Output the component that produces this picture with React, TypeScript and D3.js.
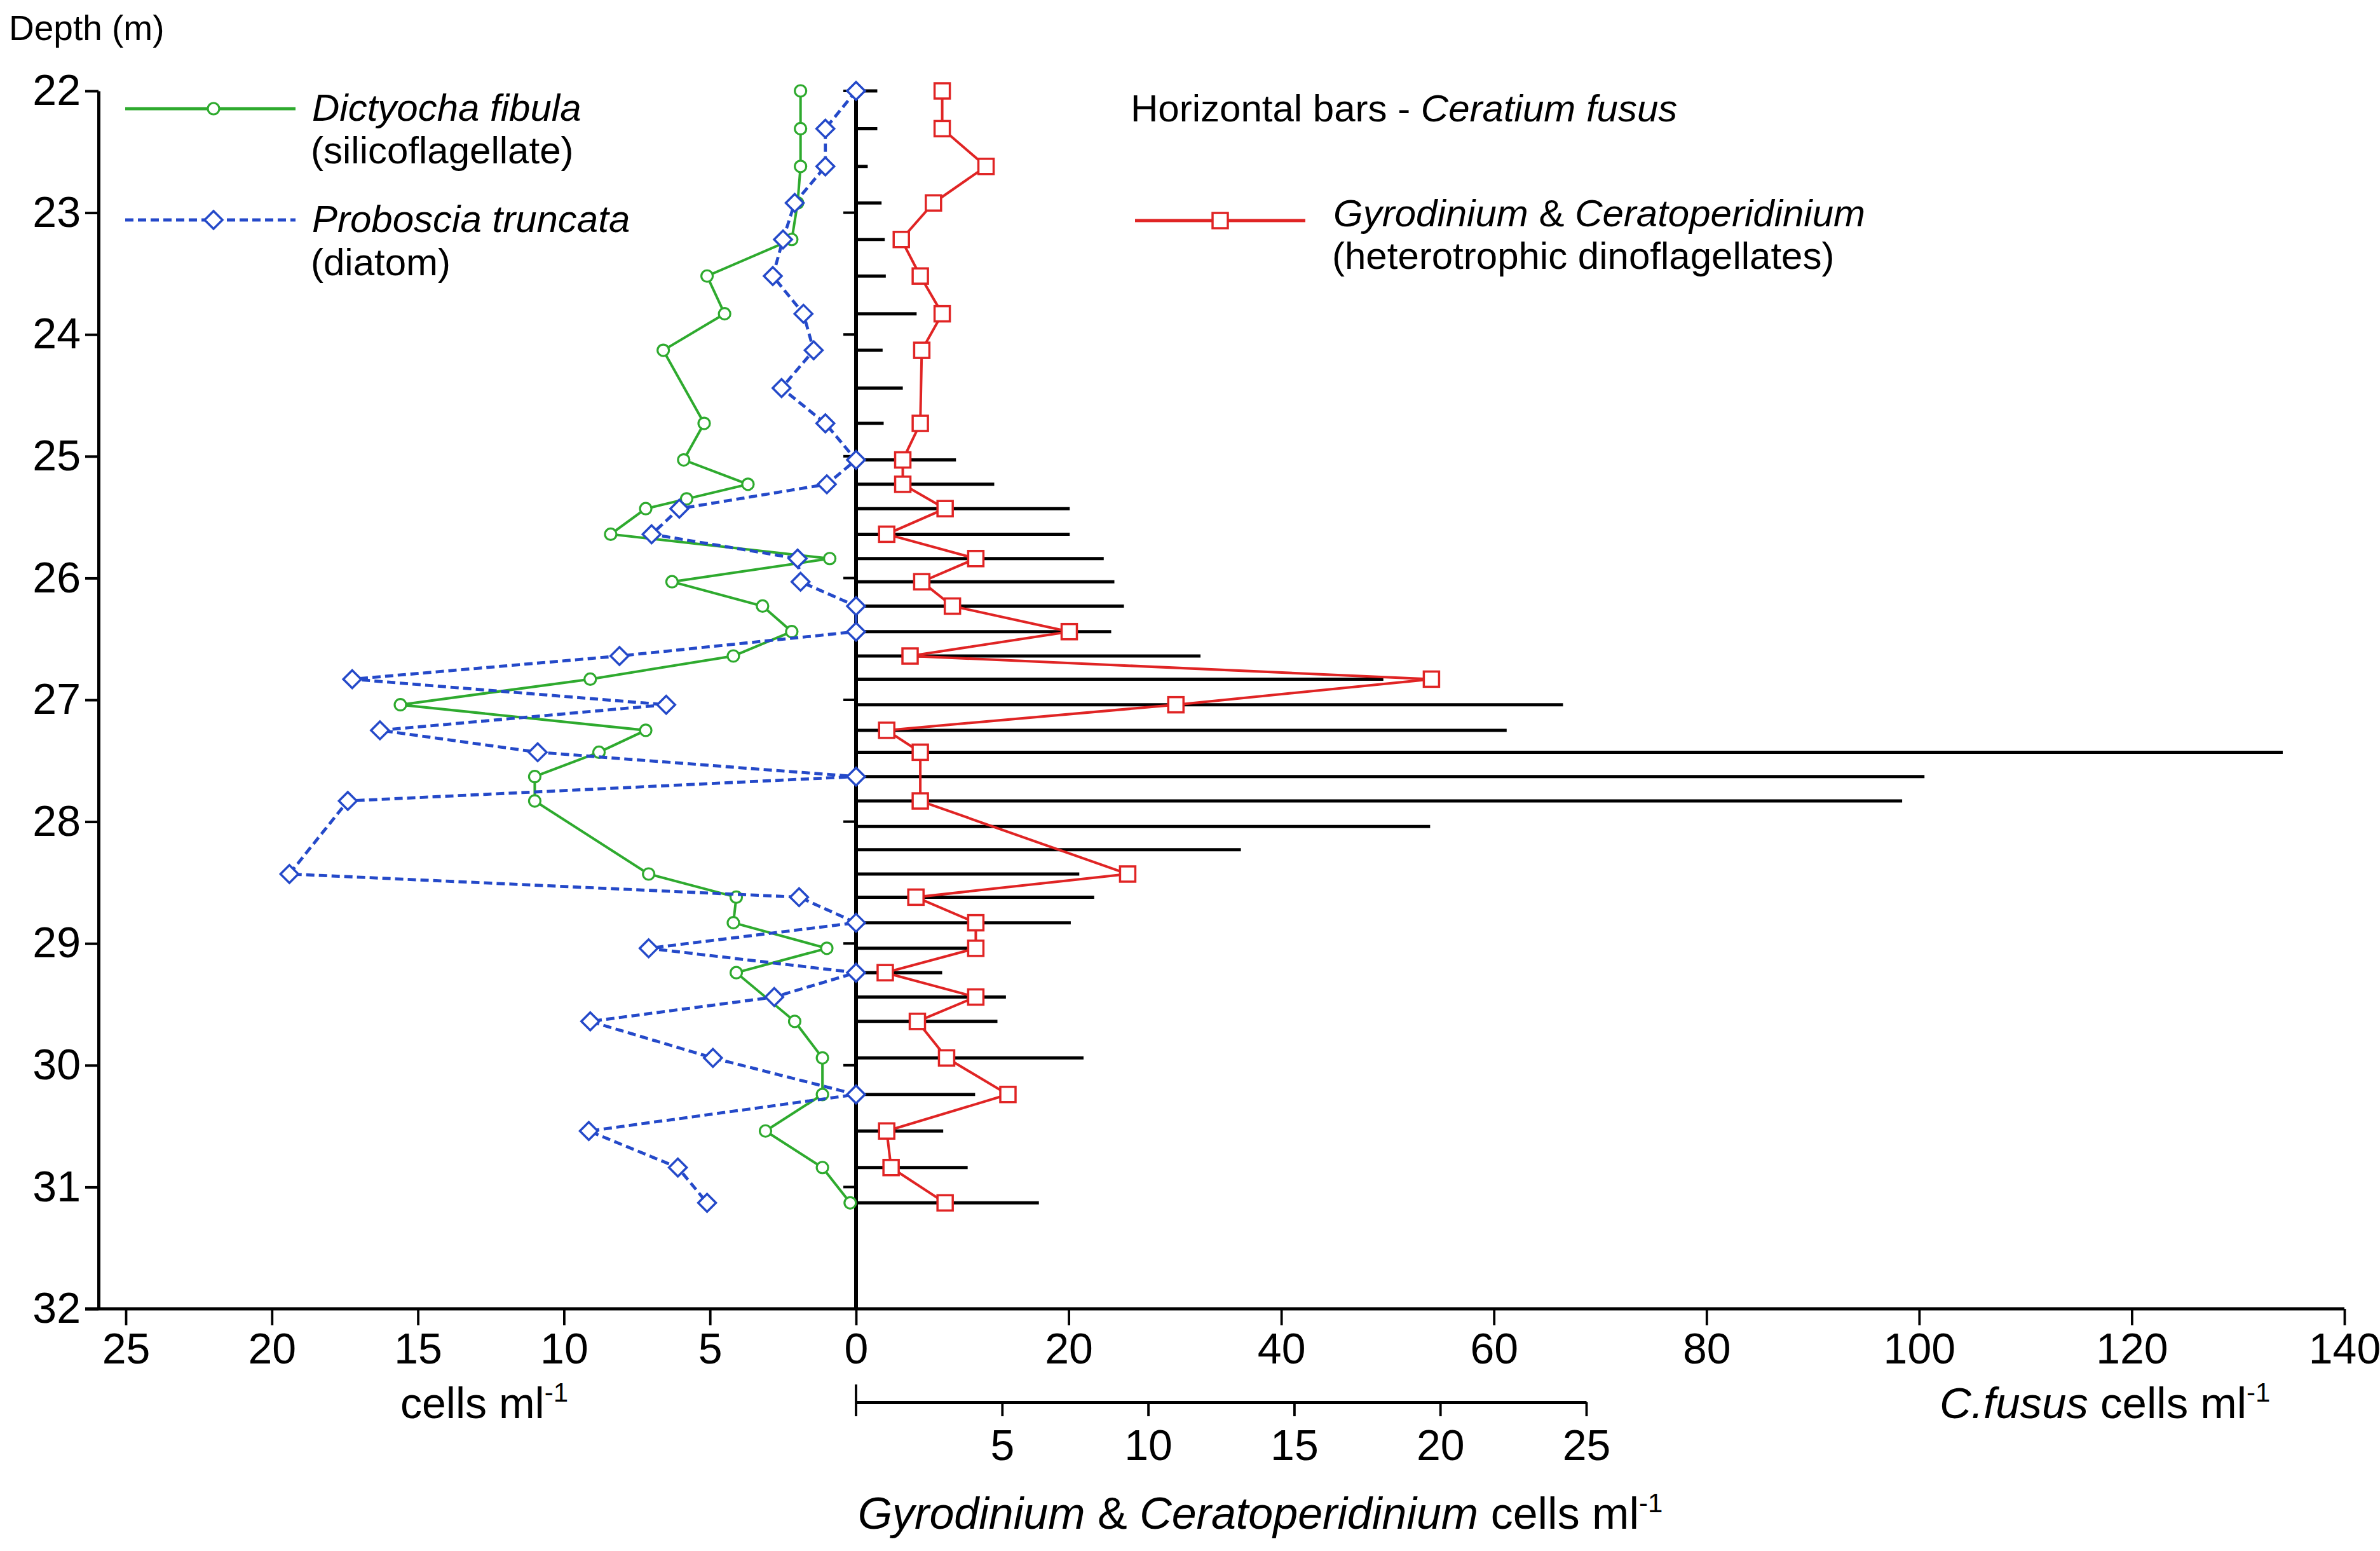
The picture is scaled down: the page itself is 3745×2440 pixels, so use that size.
import React, { useEffect, useRef } from "react";
import * as d3 from "d3";

// sample depths (m) shared by the C. fusus bars
const barDepths = [
  22.0, 22.31, 22.62, 22.92, 23.22, 23.52, 23.83, 24.13, 24.44, 24.73, 25.03,
  25.23, 25.43, 25.64, 25.84, 26.03, 26.23, 26.44, 26.64, 26.83, 27.04, 27.25,
  27.43, 27.63, 27.83, 28.04, 28.23, 28.43, 28.62, 28.83, 29.04, 29.24, 29.44,
  29.64, 29.94, 30.24, 30.54, 30.84, 31.13,
];
const ceratiumFusus = [
  2.0, 2.0, 1.1, 2.4, 2.7, 2.8, 5.7, 2.5, 4.4, 2.6, 9.4, 13.0, 20.1, 20.1, 23.3,
  24.3, 25.2, 24.0, 32.4, 49.6, 66.5, 61.2, 134.2, 100.5, 98.4, 54.0, 36.2, 21.0,
  22.4, 20.2, 10.6, 8.1, 14.1, 13.3, 21.4, 11.2, 8.2, 10.5, 17.2,
];

const dictyochaDepths = [
  22.0, 22.31, 22.62, 22.92, 23.22, 23.52, 23.83, 24.13, 24.73, 25.03, 25.23,
  25.35, 25.43, 25.64, 25.84, 26.03, 26.23, 26.44, 26.64, 26.83, 27.04, 27.25,
  27.43, 27.63, 27.83, 28.43, 28.62, 28.83, 29.04, 29.24, 29.64, 29.94, 30.24,
  30.54, 30.84, 31.13,
];
const dictyocha = [
  1.9, 1.9, 1.9, 2.0, 2.2, 5.1, 4.5, 6.6, 5.2, 5.9, 3.7, 5.8, 7.2, 8.4, 0.9, 6.3,
  3.2, 2.2, 4.2, 9.1, 15.6, 7.2, 8.8, 11.0, 11.0, 7.1, 4.1, 4.2, 1.0, 4.1, 2.1,
  1.15, 1.15, 3.1, 1.15, 0.2,
];

const probosciaDepths = [
  22.0, 22.31, 22.62, 22.92, 23.22, 23.52, 23.83, 24.13, 24.44, 24.73, 25.03,
  25.23, 25.43, 25.64, 25.84, 26.03, 26.23, 26.44, 26.64, 26.83, 27.04, 27.25,
  27.43, 27.63, 27.83, 28.43, 28.62, 28.83, 29.04, 29.24, 29.44, 29.64, 29.94,
  30.24, 30.54, 30.84, 31.13,
];
const proboscia = [
  0, 1.05, 1.05, 2.1, 2.5, 2.85, 1.8, 1.45, 2.55, 1.05, 0, 1.0, 6.05, 7.0, 2.0,
  1.9, 0, 0, 8.1, 17.25, 6.5, 16.3, 10.9, 0, 17.4, 19.4, 1.95, 0, 7.1, 0, 2.8,
  9.1, 4.9, 0, 9.15, 6.1, 5.1,
];

const gyroDepths = [
  22.0, 22.31, 22.62, 22.92, 23.22, 23.52, 23.83, 24.13, 24.73, 25.03, 25.23,
  25.43, 25.64, 25.84, 26.03, 26.23, 26.44, 26.64, 26.83, 27.04, 27.25, 27.43,
  27.83, 28.43, 28.62, 28.83, 29.04, 29.24, 29.44, 29.64, 29.94, 30.24, 30.54,
  30.84, 31.13,
];
const gyro = [
  2.95, 2.95, 4.45, 2.65, 1.55, 2.2, 2.95, 2.25, 2.2, 1.6, 1.6, 3.05, 1.05, 4.1,
  2.25, 3.3, 7.3, 1.85, 19.7, 10.95, 1.05, 2.2, 2.2, 9.3, 2.05, 4.1, 4.1, 1.0,
  4.1, 2.1, 3.1, 5.2, 1.05, 1.2, 3.05,
];

const depthTicks = d3.range(22, 33);
const leftTicks = [25, 20, 15, 10, 5, 0];
const fususTicks = [20, 40, 60, 80, 100, 120, 140];
const gyroTicks = [5, 10, 15, 20, 25];

const GREEN = "#2eaa2e";
const BLUE = "#2449c9";
const RED = "#e02424";
const FONT = "'Liberation Sans', Arial, Helvetica, sans-serif";

const App: React.FC = () => {
  const svgRef = useRef<SVGSVGElement>(null);

  useEffect(() => {
    if (!svgRef.current) return;
    const svg = d3.select(svgRef.current);
    svg.selectAll("*").remove();

    const y = d3.scaleLinear().domain([22, 32]).range([143, 2059]);
    const xLeft = d3.scaleLinear().domain([0, 25]).range([1347, 198]);
    const xFusus = d3.scaleLinear().domain([0, 140]).range([1347, 3689]);
    const xGyro = d3.scaleLinear().domain([0, 25]).range([1347, 2496]);

    const axisLeftX = 155;
    const baseY = y(32);

    // C. fusus horizontal bars
    svg
      .append("g")
      .selectAll("line")
      .data(d3.zip(barDepths, ceratiumFusus))
      .join("line")
      .attr("x1", xFusus(0))
      .attr("x2", (d) => xFusus(d[1]))
      .attr("y1", (d) => y(d[0]))
      .attr("y2", (d) => y(d[0]))
      .attr("stroke", "#000")
      .attr("stroke-width", 5);

    // centre (zero) axis with small depth ticks on its left
    svg
      .append("line")
      .attr("x1", xLeft(0))
      .attr("x2", xLeft(0))
      .attr("y1", y(22))
      .attr("y2", baseY)
      .attr("stroke", "#000")
      .attr("stroke-width", 6);
    svg
      .append("g")
      .selectAll("line")
      .data(d3.range(22, 32))
      .join("line")
      .attr("x1", xLeft(0) - 20)
      .attr("x2", xLeft(0))
      .attr("y1", (d) => y(d))
      .attr("y2", (d) => y(d))
      .attr("stroke", "#000")
      .attr("stroke-width", 4);

    const lineLeft = d3
      .line<[number, number]>()
      .x((d) => xLeft(d[1]))
      .y((d) => y(d[0]));
    const lineGyro = d3
      .line<[number, number]>()
      .x((d) => xGyro(d[1]))
      .y((d) => y(d[0]));

    const greenData = d3.zip(dictyochaDepths, dictyocha) as [number, number][];
    const blueData = d3.zip(probosciaDepths, proboscia) as [number, number][];
    const redData = d3.zip(gyroDepths, gyro) as [number, number][];

    const diamond = (r: number) => `M0,${-r}L${r},0L0,${r}L${-r},0Z`;

    // Dictyocha fibula
    svg
      .append("path")
      .datum(greenData)
      .attr("d", lineLeft)
      .attr("fill", "none")
      .attr("stroke", GREEN)
      .attr("stroke-width", 4);
    svg
      .append("g")
      .selectAll("circle")
      .data(greenData)
      .join("circle")
      .attr("cx", (d) => xLeft(d[1]))
      .attr("cy", (d) => y(d[0]))
      .attr("r", 9)
      .attr("fill", "#fff")
      .attr("stroke", GREEN)
      .attr("stroke-width", 3.2);

    // Proboscia truncata
    svg
      .append("path")
      .datum(blueData)
      .attr("d", lineLeft)
      .attr("fill", "none")
      .attr("stroke", BLUE)
      .attr("stroke-width", 4.8)
      .attr("stroke-dasharray", "13,7");
    svg
      .append("g")
      .selectAll("path")
      .data(blueData)
      .join("path")
      .attr("transform", (d) => `translate(${xLeft(d[1])},${y(d[0])})`)
      .attr("d", diamond(14))
      .attr("fill", "#fff")
      .attr("stroke", BLUE)
      .attr("stroke-width", 3.5);

    // Gyrodinium & Ceratoperidinium
    svg
      .append("path")
      .datum(redData)
      .attr("d", lineGyro)
      .attr("fill", "none")
      .attr("stroke", RED)
      .attr("stroke-width", 4);
    svg
      .append("g")
      .selectAll("rect")
      .data(redData)
      .join("rect")
      .attr("x", (d) => xGyro(d[1]) - 12)
      .attr("y", (d) => y(d[0]) - 12)
      .attr("width", 24)
      .attr("height", 24)
      .attr("fill", "#fff")
      .attr("stroke", RED)
      .attr("stroke-width", 3.5);

    // depth axis
    const gy = svg
      .append("g")
      .attr("transform", `translate(${axisLeftX},0)`)
      .call(
        d3
          .axisLeft(y)
          .tickValues(depthTicks)
          .tickSize(21)
          .tickSizeOuter(0)
          .tickPadding(7)
          .tickFormat(d3.format("d"))
      );
    gy.select(".domain").attr("stroke-width", 5);
    gy.selectAll(".tick line").attr("stroke-width", 4);
    gy.attr("font-size", 68).attr("font-family", FONT);

    // bottom axis: left (cells) and right (C. fusus)
    svg
      .append("line")
      .attr("x1", axisLeftX - 21)
      .attr("x2", xFusus(140))
      .attr("y1", baseY)
      .attr("y2", baseY)
      .attr("stroke", "#000")
      .attr("stroke-width", 5);
    [
      d3.axisBottom(xLeft).tickValues(leftTicks),
      d3.axisBottom(xFusus).tickValues(fususTicks),
    ].forEach((ax) => {
      const g = svg
        .append("g")
        .attr("transform", `translate(0,${baseY})`)
        .call(ax.tickSize(26).tickPadding(12).tickFormat(d3.format("d")));
      g.select(".domain").remove();
      g.selectAll(".tick line").attr("stroke-width", 3.8);
      g.attr("font-size", 68).attr("font-family", FONT);
    });

    // secondary axis for Gyrodinium & Ceratoperidinium
    const secY = 2206;
    const gs = svg
      .append("g")
      .attr("transform", `translate(0,${secY})`)
      .call(
        d3
          .axisBottom(xGyro)
          .tickValues(gyroTicks)
          .tickSize(22)
          .tickSizeOuter(0)
          .tickPadding(21)
          .tickFormat(d3.format("d"))
      );
    gs.select(".domain").attr("stroke-width", 5);
    gs.selectAll(".tick line").attr("stroke-width", 3.8);
    gs.attr("font-size", 68).attr("font-family", FONT);
    svg
      .append("line")
      .attr("x1", xGyro(0))
      .attr("x2", xGyro(0))
      .attr("y1", secY - 28)
      .attr("y2", secY + 22)
      .attr("stroke", "#000")
      .attr("stroke-width", 3.8);

    // text
    const text = svg.append("g").attr("font-family", FONT).attr("fill", "#000");
    text.append("text").attr("x", 14).attr("y", 63).attr("font-size", 55).text("Depth (m)");

    const unit = (t: d3.Selection<SVGTextElement, unknown, null, undefined>) => {
      t.append("tspan").text(" cells ml");
      t.append("tspan").attr("font-size", 42).attr("dy", -26).text("-1");
    };

    const t1 = text.append("text").attr("x", 630).attr("y", 2231).attr("font-size", 68);
    t1.append("tspan").text("cells ml");
    t1.append("tspan").attr("font-size", 42).attr("dy", -26).text("-1");

    const t2 = text.append("text").attr("x", 3052).attr("y", 2231).attr("font-size", 69);
    t2.append("tspan").attr("font-style", "italic").text("C.fusus");
    unit(t2);

    const t3 = text
      .append("text")
      .attr("x", 1983)
      .attr("y", 2405)
      .attr("font-size", 70)
      .attr("text-anchor", "middle");
    t3.append("tspan").attr("font-style", "italic").text("Gyrodinium");
    t3.append("tspan").text(" & ");
    t3.append("tspan").attr("font-style", "italic").text("Ceratoperidinium");
    unit(t3);

    // legends
    const legend = svg.append("g").attr("font-family", FONT).attr("font-size", 60);

    legend
      .append("line")
      .attr("x1", 197)
      .attr("x2", 465)
      .attr("y1", 171)
      .attr("y2", 171)
      .attr("stroke", GREEN)
      .attr("stroke-width", 5);
    legend
      .append("circle")
      .attr("cx", 336)
      .attr("cy", 171)
      .attr("r", 9)
      .attr("fill", "#fff")
      .attr("stroke", GREEN)
      .attr("stroke-width", 3.2);
    legend.append("text").attr("x", 491).attr("y", 190).attr("font-style", "italic").text("Dictyocha fibula");
    legend.append("text").attr("x", 489).attr("y", 257).text("(silicoflagellate)");

    legend
      .append("line")
      .attr("x1", 197)
      .attr("x2", 465)
      .attr("y1", 346)
      .attr("y2", 346)
      .attr("stroke", BLUE)
      .attr("stroke-width", 5)
      .attr("stroke-dasharray", "13,7");
    legend
      .append("path")
      .attr("transform", "translate(336,346)")
      .attr("d", diamond(14))
      .attr("fill", "#fff")
      .attr("stroke", BLUE)
      .attr("stroke-width", 3.5);
    legend.append("text").attr("x", 491).attr("y", 365).attr("font-style", "italic").text("Proboscia truncata");
    legend.append("text").attr("x", 489).attr("y", 433).text("(diatom)");

    const hb = legend.append("text").attr("x", 1779).attr("y", 191);
    hb.append("tspan").text("Horizontal bars - ");
    hb.append("tspan").attr("font-style", "italic").text("Ceratium fusus");

    legend
      .append("line")
      .attr("x1", 1786)
      .attr("x2", 2054)
      .attr("y1", 347)
      .attr("y2", 347)
      .attr("stroke", RED)
      .attr("stroke-width", 5);
    legend
      .append("rect")
      .attr("x", 1920 - 12)
      .attr("y", 347 - 12)
      .attr("width", 24)
      .attr("height", 24)
      .attr("fill", "#fff")
      .attr("stroke", RED)
      .attr("stroke-width", 3.5);
    const gl = legend.append("text").attr("x", 2098).attr("y", 356);
    gl.append("tspan").attr("font-style", "italic").text("Gyrodinium");
    gl.append("tspan").text(" & ");
    gl.append("tspan").attr("font-style", "italic").text("Ceratoperidinium");
    legend.append("text").attr("x", 2096).attr("y", 423).text("(heterotrophic dinoflagellates)");
  }, []);

  return (
    <svg
      ref={svgRef}
      width={3745}
      height={2440}
      style={{ position: "absolute", left: 0, top: 0, background: "#fff" }}
    />
  );
};

export default App;
